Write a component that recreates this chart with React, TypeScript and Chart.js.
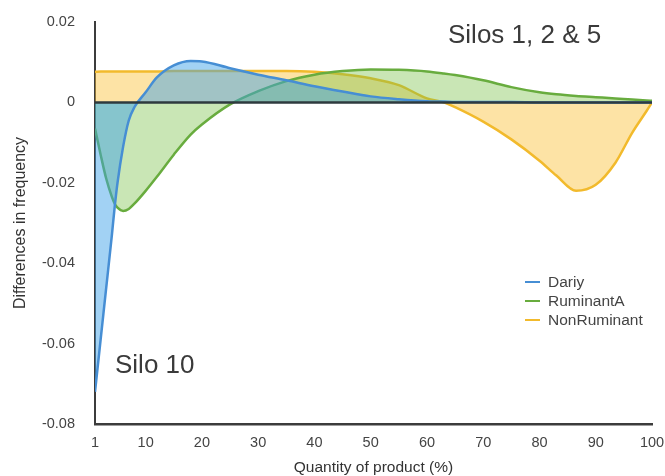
import React, { useEffect, useRef } from "react";
import { Chart, registerables } from "chart.js";

Chart.register(...registerables);

const xValues = [1, 2, 3, 4, 4.5, 5, 6, 7, 8, 10, 12, 15, 18, 20, 25, 30, 35, 40, 45, 50, 55, 60, 63, 65, 70, 75, 80, 83, 86.5, 90, 93.5, 96.5, 99, 100];

const dariy = [-0.072, -0.059, -0.046, -0.033, -0.026, -0.02, -0.011, -0.0045, -0.0012, 0.0025, 0.0062, 0.0092, 0.0103, 0.0102, 0.0085, 0.0069, 0.0055, 0.004, 0.0027, 0.0015, 0.0008, 0.0003, 0.0002, 0.0001, 0.0001, 0.0001, 0, 0, 0, 0, 0, 0, 0, 0];

const ruminantA = [-0.0065, -0.013, -0.019, -0.0235, -0.0252, -0.0262, -0.027, -0.0265, -0.0252, -0.022, -0.0185, -0.013, -0.008, -0.0055, -0.0005, 0.0028, 0.0053, 0.0069, 0.0078, 0.0082, 0.0081, 0.0077, 0.0072, 0.0068, 0.0055, 0.0038, 0.0025, 0.002, 0.0016, 0.0013, 0.001, 0.0007, 0.0005, 0.0004];

const nonRuminant = [0.0076, 0.0077, 0.0077, 0.0077, 0.0077, 0.0077, 0.0077, 0.0077, 0.0077, 0.0077, 0.0077, 0.0078, 0.0078, 0.0078, 0.0078, 0.0078, 0.0078, 0.0076, 0.007, 0.006, 0.0043, 0.001, 0.0, -0.0012, -0.0048, -0.0092, -0.0145, -0.0182, -0.022, -0.0205, -0.015, -0.0075, -0.0022, 0];

const xTicks = [1, 10, 20, 30, 40, 50, 60, 70, 80, 90, 100];
const yTickStep = 0.02;
const yMin = -0.08;
const yMax = 0.02;

const seriesLabels = ["Dariy", "RuminantA", "NonRuminant"];
const annotations = [
  { text: "Silos 1, 2 & 5", x: 448, y: 43 },
  { text: "Silo 10", x: 115, y: 373 },
];

const FONT = "'Liberation Sans', Arial, Helvetica, sans-serif";

const toPoints = (ys: number[]) => xValues.map((x, i) => ({ x, y: ys[i] }));

export default function App() {
  const ref = useRef<HTMLCanvasElement | null>(null);

  useEffect(() => {
    if (!ref.current) return;

    const lineColors = ["rgb(70,142,212)", "rgb(104,172,62)", "rgb(242,186,44)"];
    const fillColors = ["rgba(60,160,232,0.48)", "rgba(120,192,70,0.40)", "rgba(250,192,55,0.45)"];
    const seriesData = [dariy, ruminantA, nonRuminant];

    const overlay = {
      id: "overlay",
      afterDraw(chart: any) {
        const ctx = chart.ctx;
        ctx.save();
        ctx.fillStyle = "#3a3a3a";
        ctx.font = `26px ${FONT}`;
        ctx.textAlign = "left";
        ctx.textBaseline = "alphabetic";
        annotations.forEach((a) => ctx.fillText(a.text, a.x, a.y));
        ctx.font = `15.5px ${FONT}`;
        ctx.textBaseline = "middle";
        seriesLabels.forEach((label, i) => {
          const y = 282 + i * 19;
          ctx.strokeStyle = lineColors[i];
          ctx.lineWidth = 2;
          ctx.beginPath();
          ctx.moveTo(525, y);
          ctx.lineTo(540, y);
          ctx.stroke();
          ctx.fillStyle = "#444";
          ctx.fillText(label, 548, y + 1);
        });
        ctx.restore();
      },
    };

    const chart = new Chart(ref.current, {
      type: "line",
      data: {
        datasets: [
          ...seriesData.map((ys, i) => ({
            label: seriesLabels[i],
            data: toPoints(ys),
            borderColor: lineColors[i],
            backgroundColor: fillColors[i],
            borderWidth: 2.5,
            pointRadius: 0,
            fill: "origin",
            cubicInterpolationMode: "monotone" as const,
            order: 1,
          })),
          {
            label: "zero",
            data: [
              { x: xTicks[0], y: 0 },
              { x: xTicks[xTicks.length - 1], y: 0 },
            ],
            borderColor: "#2e3a3e",
            borderWidth: 2.5,
            pointRadius: 0,
            fill: false,
            order: 0,
          },
        ],
      },
      options: {
        animation: false,
        responsive: false,
        maintainAspectRatio: false,
        layout: { padding: { top: 22, right: 13, left: 0, bottom: 0 } },
        plugins: {
          legend: { display: false },
          tooltip: { enabled: false },
        },
        scales: {
          x: {
            type: "linear",
            min: 1,
            max: 100,
            afterBuildTicks: (scale: any) => {
              scale.ticks = xTicks.map((v) => ({ value: v }));
            },
            afterFit: (scale: any) => {
              scale.height = 52;
              scale.paddingLeft = 0;
              scale.paddingRight = 0;
            },
            grid: { display: false, drawTicks: false },
            border: { display: true, color: "#3c3c3c", width: 2.5 },
            ticks: {
              padding: 10,
              color: "#444",
              font: { family: FONT, size: 14.5 },
              maxRotation: 0,
              autoSkip: false,
            },
            title: {
              display: true,
              text: "Quantity of product (%)",
              color: "#333",
              font: { family: FONT, size: 15.5, lineHeight: 1 },
              padding: { top: 0, bottom: 1 },
            },
          },
          y: {
            type: "linear",
            min: yMin,
            max: yMax,
            afterFit: (scale: any) => {
              scale.width = 95;
              scale.paddingTop = 0;
              scale.paddingBottom = 0;
            },
            grid: { display: false, drawTicks: false },
            border: { display: true, color: "#3c3c3c", width: 2 },
            ticks: {
              stepSize: yTickStep,
              padding: 20,
              color: "#444",
              font: { family: FONT, size: 14.5 },
              callback: (v: any) => (Math.abs(v) < 1e-9 ? "0" : Number(v).toFixed(2)),
            },
            title: {
              display: true,
              text: "Differences in frequency",
              color: "#333",
              font: { family: FONT, size: 16, lineHeight: 1 },
              padding: { top: 13, bottom: 0 },
            },
          },
        },
      },
      plugins: [overlay],
    } as any);

    return () => chart.destroy();
  }, []);

  return (
    <div style={{ position: "absolute", left: 0, top: 0, width: 665, height: 476, background: "#fff" }}>
      <canvas ref={ref} width={665} height={476} style={{ display: "block" }} />
    </div>
  );
}
